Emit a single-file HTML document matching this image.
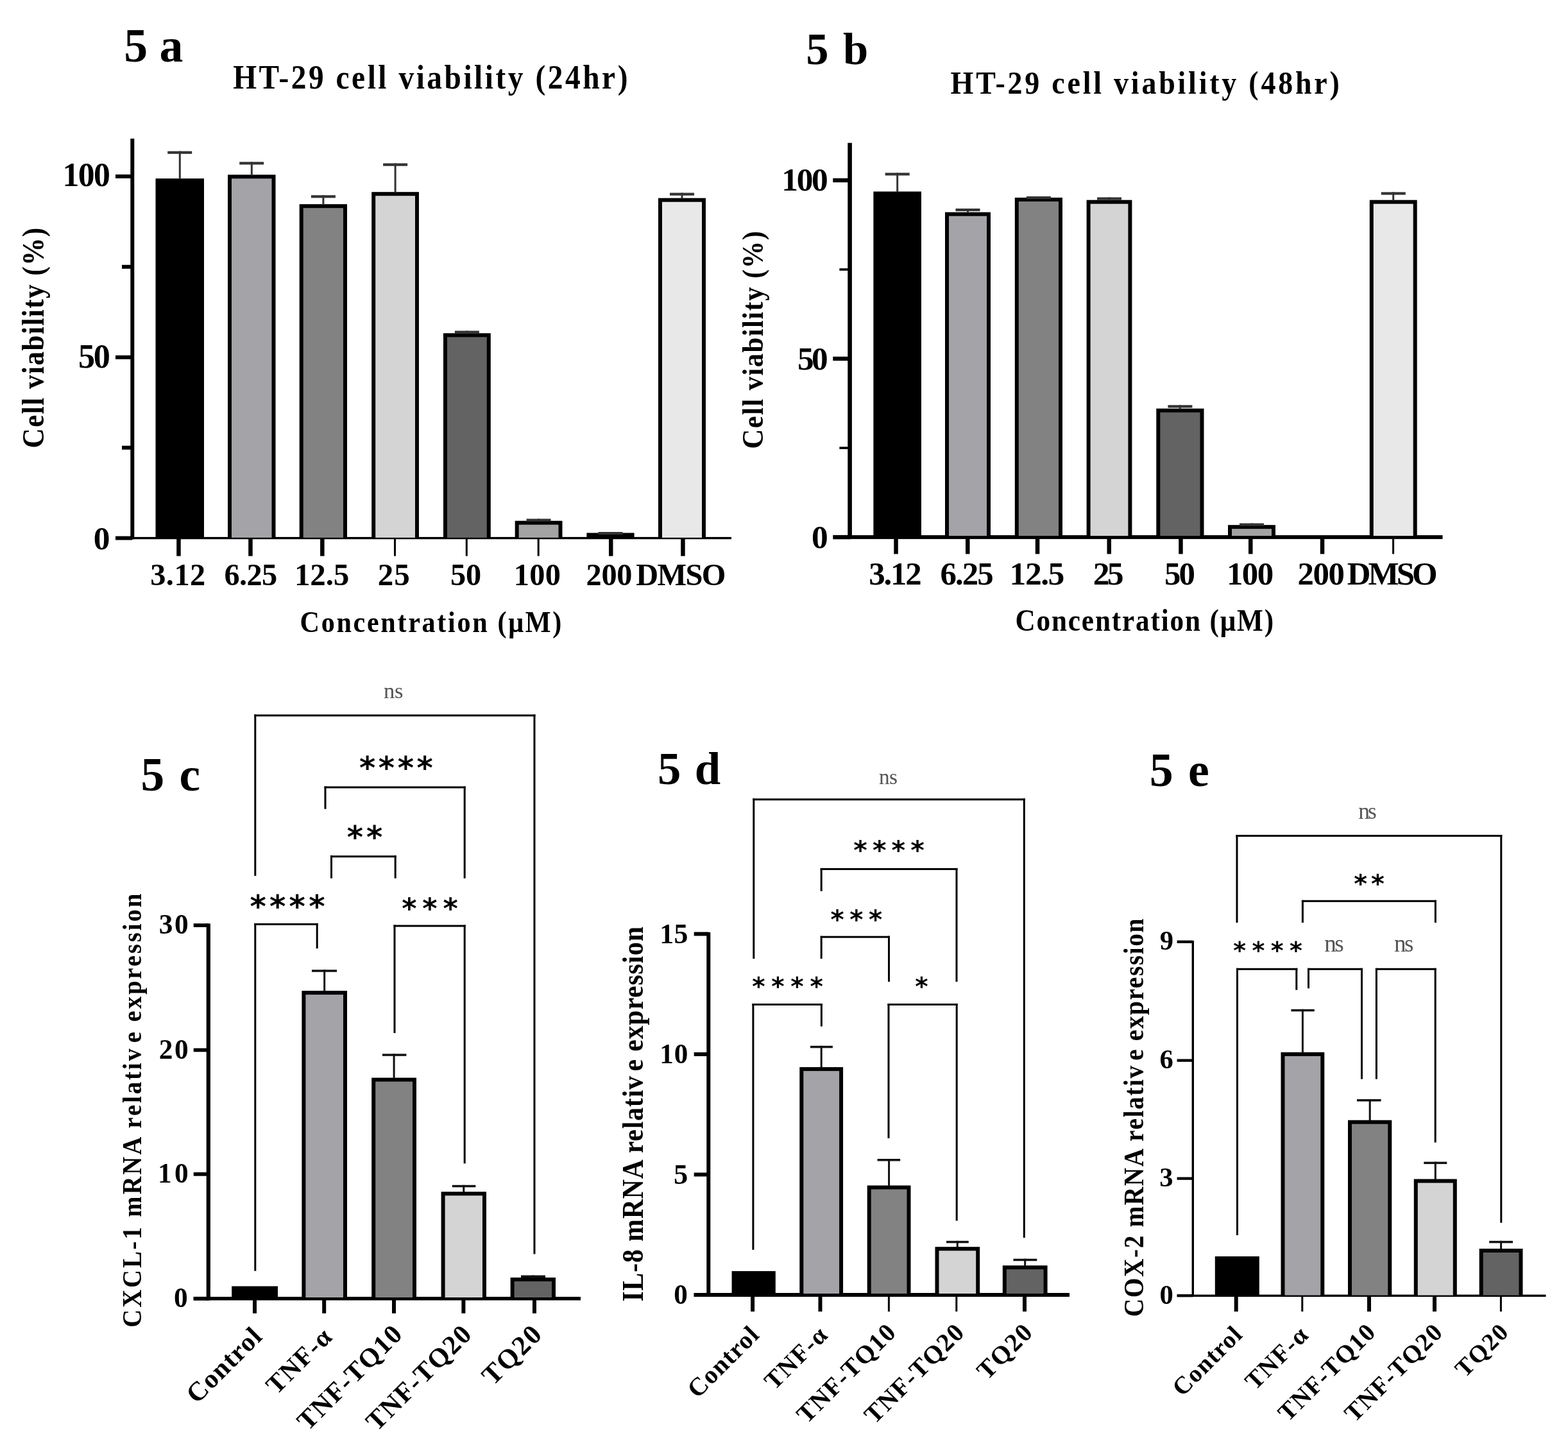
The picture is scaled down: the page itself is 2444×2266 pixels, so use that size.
<!DOCTYPE html>
<html><head><meta charset="utf-8"><title>Figure 5</title>
<style>html,body{margin:0;padding:0;background:#fff;} svg{display:block;}</style></head>
<body><svg width="2444" height="2266" viewBox="0 0 2444 2266">
<rect x="0" y="0" width="2444" height="2266" fill="#fff"/>
<rect x="203.3" y="216.0" width="6.0" height="624.3" fill="#000"/>
<rect x="180.0" y="836.9" width="960.0" height="3.4" fill="#000"/>
<rect x="180.0" y="835.6" width="26.3" height="6.0" fill="#000"/>
<rect x="180.0" y="553.8" width="26.3" height="6.0" fill="#000"/>
<rect x="180.0" y="271.9" width="26.3" height="6.0" fill="#000"/>
<rect x="190.0" y="694.7" width="16.3" height="6.0" fill="#000"/>
<rect x="190.0" y="412.8" width="16.3" height="6.0" fill="#000"/>
<rect x="275.2" y="838.6" width="6.5" height="28.0" fill="#000"/>
<rect x="387.2" y="838.6" width="6.5" height="28.0" fill="#000"/>
<rect x="499.1" y="838.6" width="6.5" height="28.0" fill="#000"/>
<rect x="614.0" y="838.6" width="3.0" height="28.0" fill="#000"/>
<rect x="725.8" y="838.6" width="3.0" height="28.0" fill="#000"/>
<rect x="837.7" y="838.6" width="3.0" height="28.0" fill="#000"/>
<rect x="949.0" y="838.6" width="6.5" height="28.0" fill="#000"/>
<rect x="1061.2" y="838.6" width="6.5" height="28.0" fill="#000"/>
<rect x="242.5" y="278.2" width="75.5" height="559.7" fill="#000"/>
<rect x="278.8" y="235.6" width="3.0" height="43.6" fill="#333"/>
<rect x="261.2" y="235.6" width="38.0" height="4.2" fill="#333"/>
<rect x="355.0" y="272.3" width="74.5" height="565.6" fill="#000"/>
<rect x="361.0" y="278.3" width="62.5" height="559.6" fill="#a4a3a8"/>
<rect x="390.8" y="252.3" width="3.0" height="21.0" fill="#333"/>
<rect x="373.2" y="252.3" width="38.0" height="4.2" fill="#333"/>
<rect x="466.7" y="318.2" width="74.3" height="519.7" fill="#000"/>
<rect x="472.7" y="324.2" width="62.3" height="513.7" fill="#828282"/>
<rect x="502.4" y="304.2" width="3.0" height="15.0" fill="#333"/>
<rect x="484.9" y="304.2" width="38.0" height="4.2" fill="#333"/>
<rect x="579.2" y="299.2" width="73.8" height="538.7" fill="#000"/>
<rect x="585.2" y="305.2" width="61.8" height="532.7" fill="#d4d4d4"/>
<rect x="614.6" y="254.5" width="3.0" height="45.7" fill="#333"/>
<rect x="597.1" y="254.5" width="38.0" height="4.2" fill="#333"/>
<rect x="691.0" y="519.3" width="73.8" height="318.6" fill="#000"/>
<rect x="697.0" y="525.3" width="61.8" height="312.6" fill="#636363"/>
<rect x="726.4" y="515.5" width="3.0" height="4.8" fill="#333"/>
<rect x="708.9" y="515.5" width="38.0" height="4.2" fill="#333"/>
<rect x="802.7" y="811.7" width="73.8" height="26.2" fill="#000"/>
<rect x="808.7" y="817.7" width="61.8" height="20.2" fill="#a3a3a3"/>
<rect x="838.1" y="808.5" width="3.0" height="4.2" fill="#333"/>
<rect x="820.6" y="808.5" width="38.0" height="4.2" fill="#333"/>
<rect x="914.4" y="830.5" width="74.2" height="7.4" fill="#000"/>
<rect x="950.0" y="829.0" width="3.0" height="2.5" fill="#333"/>
<rect x="932.5" y="829.0" width="38.0" height="4.2" fill="#333"/>
<rect x="1026.0" y="308.7" width="74.0" height="529.2" fill="#000"/>
<rect x="1032.0" y="314.7" width="62.0" height="523.2" fill="#e8e8e8"/>
<rect x="1061.5" y="300.5" width="3.0" height="9.2" fill="#333"/>
<rect x="1044.0" y="300.5" width="38.0" height="4.2" fill="#333"/>
<rect x="1321.3" y="222.7" width="6.6" height="617.4" fill="#000"/>
<rect x="1299.0" y="834.1" width="949.5" height="6.0" fill="#000"/>
<rect x="1298.3" y="833.9" width="26.3" height="6.4" fill="#000"/>
<rect x="1298.3" y="555.8" width="26.3" height="6.4" fill="#000"/>
<rect x="1298.3" y="277.8" width="26.3" height="6.4" fill="#000"/>
<rect x="1308.4" y="696.3" width="16.2" height="3.6" fill="#000"/>
<rect x="1308.4" y="418.2" width="16.2" height="3.6" fill="#000"/>
<rect x="1393.3" y="837.1" width="6.5" height="26.3" fill="#000"/>
<rect x="1505.0" y="837.1" width="6.5" height="26.3" fill="#000"/>
<rect x="1613.8" y="837.1" width="6.5" height="26.3" fill="#000"/>
<rect x="1725.5" y="837.1" width="6.5" height="26.3" fill="#000"/>
<rect x="1837.2" y="837.1" width="6.5" height="26.3" fill="#000"/>
<rect x="1946.0" y="837.1" width="6.5" height="26.3" fill="#000"/>
<rect x="2057.8" y="837.1" width="6.5" height="26.3" fill="#000"/>
<rect x="2170.1" y="837.1" width="3.0" height="26.3" fill="#000"/>
<rect x="1361.4" y="298.5" width="74.6" height="536.6" fill="#000"/>
<rect x="1397.2" y="269.3" width="3.0" height="30.2" fill="#333"/>
<rect x="1379.7" y="269.3" width="38.0" height="4.2" fill="#333"/>
<rect x="1473.0" y="330.7" width="71.0" height="504.4" fill="#000"/>
<rect x="1479.0" y="336.7" width="59.0" height="498.4" fill="#a4a3a8"/>
<rect x="1507.0" y="325.0" width="3.0" height="6.7" fill="#333"/>
<rect x="1489.5" y="325.0" width="38.0" height="4.2" fill="#333"/>
<rect x="1581.8" y="308.0" width="74.2" height="527.1" fill="#000"/>
<rect x="1587.8" y="314.0" width="62.2" height="521.1" fill="#828282"/>
<rect x="1617.4" y="306.0" width="3.0" height="3.0" fill="#333"/>
<rect x="1599.9" y="306.0" width="38.0" height="4.2" fill="#333"/>
<rect x="1693.6" y="311.7" width="70.8" height="523.4" fill="#000"/>
<rect x="1699.6" y="317.7" width="58.8" height="517.4" fill="#d4d4d4"/>
<rect x="1727.5" y="307.5" width="3.0" height="5.2" fill="#333"/>
<rect x="1710.0" y="307.5" width="38.0" height="4.2" fill="#333"/>
<rect x="1802.3" y="636.7" width="74.2" height="198.4" fill="#000"/>
<rect x="1808.3" y="642.7" width="62.2" height="192.4" fill="#636363"/>
<rect x="1837.9" y="631.3" width="3.0" height="6.4" fill="#333"/>
<rect x="1820.4" y="631.3" width="38.0" height="4.2" fill="#333"/>
<rect x="1914.0" y="818.2" width="74.0" height="16.9" fill="#000"/>
<rect x="1920.0" y="824.2" width="62.0" height="10.9" fill="#a3a3a3"/>
<rect x="1949.5" y="815.5" width="3.0" height="3.7" fill="#333"/>
<rect x="1932.0" y="815.5" width="38.0" height="4.2" fill="#333"/>
<rect x="2134.8" y="311.7" width="73.9" height="523.4" fill="#000"/>
<rect x="2140.8" y="317.7" width="61.9" height="517.4" fill="#e8e8e8"/>
<rect x="2170.2" y="299.4" width="3.0" height="13.3" fill="#333"/>
<rect x="2152.8" y="299.4" width="38.0" height="4.2" fill="#333"/>
<rect x="321.7" y="1439.3" width="6.2" height="587.2" fill="#000"/>
<rect x="301.7" y="2021.0" width="603.3" height="5.5" fill="#000"/>
<rect x="301.7" y="1439.2" width="23.1" height="5.7" fill="#000"/>
<rect x="301.7" y="1633.6" width="23.1" height="5.7" fill="#000"/>
<rect x="301.7" y="1827.0" width="23.1" height="5.7" fill="#000"/>
<rect x="301.7" y="2020.9" width="23.1" height="5.7" fill="#000"/>
<rect x="394.0" y="2023.7" width="6.0" height="23.1" fill="#000"/>
<rect x="502.2" y="2023.7" width="6.0" height="23.1" fill="#000"/>
<rect x="611.0" y="2023.7" width="6.0" height="23.1" fill="#000"/>
<rect x="719.4" y="2023.7" width="6.0" height="23.1" fill="#000"/>
<rect x="830.0" y="2023.7" width="6.0" height="23.1" fill="#000"/>
<rect x="361.2" y="2004.5" width="71.8" height="17.5" fill="#000"/>
<rect x="470.4" y="1544.1" width="70.6" height="477.9" fill="#000"/>
<rect x="476.4" y="1550.1" width="58.6" height="471.9" fill="#a4a3a8"/>
<rect x="504.2" y="1511.3" width="3.0" height="33.8" fill="#111"/>
<rect x="486.0" y="1511.3" width="39.1" height="3.5" fill="#111"/>
<rect x="579.2" y="1679.6" width="69.8" height="342.4" fill="#000"/>
<rect x="585.2" y="1685.6" width="57.8" height="336.4" fill="#828282"/>
<rect x="612.6" y="1642.3" width="3.0" height="38.3" fill="#111"/>
<rect x="596.0" y="1642.3" width="37.4" height="3.5" fill="#111"/>
<rect x="687.6" y="1857.3" width="70.4" height="164.7" fill="#000"/>
<rect x="693.6" y="1863.3" width="58.4" height="158.7" fill="#d4d4d4"/>
<rect x="721.3" y="1846.8" width="3.0" height="11.5" fill="#111"/>
<rect x="704.8" y="1846.8" width="36.6" height="3.5" fill="#111"/>
<rect x="795.6" y="1991.0" width="70.4" height="31.0" fill="#000"/>
<rect x="801.6" y="1997.0" width="58.4" height="25.0" fill="#636363"/>
<rect x="829.3" y="1987.5" width="3.0" height="4.5" fill="#111"/>
<rect x="812.0" y="1987.5" width="38.0" height="3.5" fill="#111"/>
<rect x="396.3" y="1113.5" width="438.2" height="3.0" fill="#000"/>
<rect x="396.3" y="1113.5" width="3.0" height="251.5" fill="#000"/>
<rect x="831.5" y="1113.5" width="3.0" height="840.9" fill="#000"/>
<rect x="505.5" y="1225.5" width="220.2" height="3.0" fill="#000"/>
<rect x="505.5" y="1225.5" width="3.0" height="35.3" fill="#000"/>
<rect x="722.7" y="1225.5" width="3.0" height="143.3" fill="#000"/>
<rect x="515.0" y="1333.3" width="102.7" height="3.0" fill="#000"/>
<rect x="515.0" y="1333.3" width="3.0" height="35.5" fill="#000"/>
<rect x="614.7" y="1333.3" width="3.0" height="35.5" fill="#000"/>
<rect x="396.3" y="1438.9" width="99.4" height="3.0" fill="#000"/>
<rect x="396.3" y="1438.9" width="3.0" height="541.8" fill="#000"/>
<rect x="492.7" y="1438.9" width="3.0" height="39.3" fill="#000"/>
<rect x="613.5" y="1441.5" width="112.2" height="3.0" fill="#000"/>
<rect x="613.5" y="1441.5" width="3.0" height="168.5" fill="#000"/>
<rect x="722.7" y="1441.5" width="3.0" height="371.8" fill="#000"/>
<rect x="1101.3" y="1452.9" width="6.0" height="568.1" fill="#000"/>
<rect x="1081.7" y="2015.0" width="585.3" height="6.0" fill="#000"/>
<rect x="1081.7" y="1452.5" width="22.6" height="6.0" fill="#000"/>
<rect x="1081.7" y="1640.0" width="22.6" height="6.0" fill="#000"/>
<rect x="1081.7" y="1827.5" width="22.6" height="6.0" fill="#000"/>
<rect x="1081.7" y="2015.0" width="22.6" height="6.0" fill="#000"/>
<rect x="1170.1" y="2018.0" width="6.0" height="26.0" fill="#000"/>
<rect x="1275.5" y="2018.0" width="6.0" height="26.0" fill="#000"/>
<rect x="1383.9" y="2018.0" width="3.0" height="26.0" fill="#000"/>
<rect x="1489.3" y="2018.0" width="3.0" height="26.0" fill="#000"/>
<rect x="1594.0" y="2018.0" width="6.0" height="26.0" fill="#000"/>
<rect x="1140.6" y="1981.0" width="68.2" height="35.0" fill="#000"/>
<rect x="1246.3" y="1663.1" width="67.8" height="352.9" fill="#000"/>
<rect x="1252.3" y="1669.1" width="55.8" height="346.9" fill="#a4a3a8"/>
<rect x="1278.7" y="1629.8" width="3.0" height="34.3" fill="#111"/>
<rect x="1263.0" y="1629.8" width="34.9" height="3.5" fill="#111"/>
<rect x="1351.7" y="1847.5" width="67.8" height="168.5" fill="#000"/>
<rect x="1357.7" y="1853.5" width="55.8" height="162.5" fill="#828282"/>
<rect x="1384.1" y="1806.0" width="3.0" height="42.5" fill="#111"/>
<rect x="1367.6" y="1806.0" width="35.6" height="3.5" fill="#111"/>
<rect x="1457.5" y="1943.2" width="69.7" height="72.8" fill="#000"/>
<rect x="1463.5" y="1949.2" width="57.7" height="66.8" fill="#d4d4d4"/>
<rect x="1490.8" y="1933.8" width="3.0" height="10.4" fill="#111"/>
<rect x="1475.0" y="1933.8" width="34.8" height="3.5" fill="#111"/>
<rect x="1562.8" y="1972.2" width="69.8" height="43.8" fill="#000"/>
<rect x="1568.8" y="1978.2" width="57.8" height="37.8" fill="#636363"/>
<rect x="1596.2" y="1961.7" width="3.0" height="11.5" fill="#111"/>
<rect x="1579.5" y="1961.7" width="36.8" height="3.5" fill="#111"/>
<rect x="1173.3" y="1244.4" width="424.5" height="3.0" fill="#000"/>
<rect x="1173.3" y="1244.4" width="3.0" height="249.8" fill="#000"/>
<rect x="1594.8" y="1244.4" width="3.0" height="684.5" fill="#000"/>
<rect x="1278.7" y="1352.9" width="213.8" height="3.0" fill="#000"/>
<rect x="1278.7" y="1352.9" width="3.0" height="35.9" fill="#000"/>
<rect x="1489.5" y="1352.9" width="3.0" height="177.1" fill="#000"/>
<rect x="1278.7" y="1458.7" width="108.3" height="3.0" fill="#000"/>
<rect x="1278.7" y="1458.7" width="3.0" height="35.5" fill="#000"/>
<rect x="1384.0" y="1458.7" width="3.0" height="71.3" fill="#000"/>
<rect x="1172.4" y="1564.0" width="109.5" height="3.0" fill="#000"/>
<rect x="1172.4" y="1564.0" width="3.0" height="383.8" fill="#000"/>
<rect x="1278.9" y="1564.0" width="3.0" height="35.6" fill="#000"/>
<rect x="1383.5" y="1564.0" width="109.2" height="3.0" fill="#000"/>
<rect x="1383.5" y="1564.0" width="3.0" height="209.9" fill="#000"/>
<rect x="1489.7" y="1564.0" width="3.0" height="338.5" fill="#000"/>
<rect x="1857.6" y="1466.0" width="3.4" height="555.0" fill="#000"/>
<rect x="1834.8" y="2017.6" width="574.7" height="3.4" fill="#000"/>
<rect x="1834.6" y="1465.6" width="24.7" height="4.3" fill="#000"/>
<rect x="1834.6" y="1650.5" width="24.7" height="4.3" fill="#000"/>
<rect x="1834.6" y="1834.5" width="24.7" height="4.3" fill="#000"/>
<rect x="1834.6" y="2017.1" width="24.7" height="4.3" fill="#000"/>
<rect x="1923.7" y="2019.3" width="6.0" height="24.7" fill="#000"/>
<rect x="2028.3" y="2019.3" width="3.0" height="24.7" fill="#000"/>
<rect x="2131.0" y="2019.3" width="6.0" height="24.7" fill="#000"/>
<rect x="2233.0" y="2019.3" width="6.0" height="24.7" fill="#000"/>
<rect x="2337.9" y="2019.3" width="3.0" height="24.7" fill="#000"/>
<rect x="1893.8" y="1958.0" width="69.0" height="60.6" fill="#000"/>
<rect x="1996.5" y="1639.9" width="67.8" height="378.7" fill="#000"/>
<rect x="2002.5" y="1645.9" width="55.8" height="372.7" fill="#a4a3a8"/>
<rect x="2028.9" y="1572.8" width="3.0" height="68.1" fill="#111"/>
<rect x="2012.4" y="1572.8" width="36.4" height="3.5" fill="#111"/>
<rect x="2101.0" y="1745.7" width="68.3" height="272.9" fill="#000"/>
<rect x="2107.0" y="1751.7" width="56.3" height="266.9" fill="#828282"/>
<rect x="2133.7" y="1713.0" width="3.0" height="33.7" fill="#111"/>
<rect x="2115.0" y="1713.0" width="37.6" height="3.5" fill="#111"/>
<rect x="2203.8" y="1837.5" width="67.0" height="181.1" fill="#000"/>
<rect x="2209.8" y="1843.5" width="55.0" height="175.1" fill="#d4d4d4"/>
<rect x="2235.8" y="1810.6" width="3.0" height="27.9" fill="#111"/>
<rect x="2219.3" y="1810.6" width="36.0" height="3.5" fill="#111"/>
<rect x="2305.7" y="1946.0" width="67.8" height="72.6" fill="#000"/>
<rect x="2311.7" y="1952.0" width="55.8" height="66.6" fill="#636363"/>
<rect x="2338.1" y="1933.8" width="3.0" height="13.2" fill="#111"/>
<rect x="2321.2" y="1933.8" width="36.8" height="3.5" fill="#111"/>
<rect x="1926.5" y="1301.1" width="414.8" height="3.0" fill="#000"/>
<rect x="1926.5" y="1301.1" width="3.0" height="136.8" fill="#000"/>
<rect x="2338.3" y="1301.1" width="3.0" height="604.6" fill="#000"/>
<rect x="2028.9" y="1402.8" width="210.0" height="3.0" fill="#000"/>
<rect x="2028.9" y="1402.8" width="3.0" height="35.1" fill="#000"/>
<rect x="2235.9" y="1402.8" width="3.0" height="35.1" fill="#000"/>
<rect x="1927.0" y="1508.8" width="95.3" height="3.0" fill="#000"/>
<rect x="1927.0" y="1508.8" width="3.0" height="416.2" fill="#000"/>
<rect x="2019.3" y="1508.8" width="3.0" height="34.0" fill="#000"/>
<rect x="2038.0" y="1508.8" width="86.0" height="3.0" fill="#000"/>
<rect x="2038.0" y="1508.8" width="3.0" height="31.5" fill="#000"/>
<rect x="2121.0" y="1508.8" width="3.0" height="172.9" fill="#000"/>
<rect x="2143.9" y="1508.8" width="94.8" height="3.0" fill="#000"/>
<rect x="2143.9" y="1508.8" width="3.0" height="172.9" fill="#000"/>
<rect x="2235.7" y="1508.8" width="3.0" height="271.7" fill="#000"/>
<text x="193.3" y="96.1" font-size="73.79" letter-spacing="-0.02" font-family="Liberation Serif" font-weight="bold" fill="#000" xml:space="preserve">5 a</text>
<text x="1256.3" y="99.8" font-size="70.57" letter-spacing="2.45" font-family="Liberation Serif" font-weight="bold" fill="#000" xml:space="preserve">5 b</text>
<text transform="translate(363.2,137.5) scale(0.9,1)" x="0" y="0" font-size="52.67" letter-spacing="3.92" font-family="Liberation Serif" font-weight="bold" fill="#000" xml:space="preserve">HT-29 cell viability (24hr)</text>
<text transform="translate(1481.6,145.9) scale(0.9,1)" x="0" y="0" font-size="51.11" letter-spacing="4.20" font-family="Liberation Serif" font-weight="bold" fill="#000" xml:space="preserve">HT-29 cell viability (48hr)</text>
<text x="97.6" y="289.9" font-size="51.76" letter-spacing="-1.62" font-family="Liberation Serif" font-weight="bold" fill="#000" xml:space="preserve">100</text>
<text x="122.0" y="572.6" font-size="52.21" letter-spacing="-2.33" font-family="Liberation Serif" font-weight="bold" fill="#000" xml:space="preserve">50</text>
<text x="145.7" y="855.5" font-size="51.47" letter-spacing="0.00" font-family="Liberation Serif" font-weight="bold" fill="#000" xml:space="preserve">0</text>
<text x="1218.3" y="297.0" font-size="51.47" letter-spacing="-2.36" font-family="Liberation Serif" font-weight="bold" fill="#000" xml:space="preserve">100</text>
<text x="1243.1" y="575.7" font-size="51.32" letter-spacing="-3.72" font-family="Liberation Serif" font-weight="bold" fill="#000" xml:space="preserve">50</text>
<text x="1265.0" y="854.0" font-size="51.47" letter-spacing="0.00" font-family="Liberation Serif" font-weight="bold" fill="#000" xml:space="preserve">0</text>
<text transform="translate(67.9,698.4) rotate(-90) scale(0.9,1)" x="0" y="0" font-size="48.00" letter-spacing="1.60" font-family="Liberation Serif" font-weight="bold" fill="#000" xml:space="preserve">Cell viability (%)</text>
<text transform="translate(1189.2,699.4) rotate(-90) scale(0.9,1)" x="0" y="0" font-size="47.33" letter-spacing="1.61" font-family="Liberation Serif" font-weight="bold" fill="#000" xml:space="preserve">Cell viability (%)</text>
<text x="234.2" y="911.8" font-size="48.38" letter-spacing="0.47" font-family="Liberation Serif" font-weight="bold" fill="#000" xml:space="preserve">3.12</text>
<text x="349.4" y="911.8" font-size="48.38" letter-spacing="-0.63" font-family="Liberation Serif" font-weight="bold" fill="#000" xml:space="preserve">6.25</text>
<text x="458.9" y="912.3" font-size="49.10" letter-spacing="-0.15" font-family="Liberation Serif" font-weight="bold" fill="#000" xml:space="preserve">12.5</text>
<text x="588.8" y="912.3" font-size="49.10" letter-spacing="1.02" font-family="Liberation Serif" font-weight="bold" fill="#000" xml:space="preserve">25</text>
<text x="701.9" y="911.8" font-size="48.38" letter-spacing="-0.11" font-family="Liberation Serif" font-weight="bold" fill="#000" xml:space="preserve">50</text>
<text x="800.8" y="911.8" font-size="48.38" letter-spacing="0.27" font-family="Liberation Serif" font-weight="bold" fill="#000" xml:space="preserve">100</text>
<text x="913.4" y="911.8" font-size="48.38" letter-spacing="-0.20" font-family="Liberation Serif" font-weight="bold" fill="#000" xml:space="preserve">200</text>
<text x="991.3" y="911.8" font-size="48.38" letter-spacing="-1.69" font-family="Liberation Serif" font-weight="bold" fill="#000" xml:space="preserve">DMSO</text>
<text x="1354.2" y="910.9" font-size="50.88" letter-spacing="-2.19" font-family="Liberation Serif" font-weight="bold" fill="#000" xml:space="preserve">3.12</text>
<text x="1465.4" y="910.9" font-size="50.88" letter-spacing="-1.93" font-family="Liberation Serif" font-weight="bold" fill="#000" xml:space="preserve">6.25</text>
<text x="1573.6" y="911.4" font-size="51.64" letter-spacing="-1.53" font-family="Liberation Serif" font-weight="bold" fill="#000" xml:space="preserve">12.5</text>
<text x="1703.7" y="911.4" font-size="51.64" letter-spacing="-3.71" font-family="Liberation Serif" font-weight="bold" fill="#000" xml:space="preserve">25</text>
<text x="1814.9" y="910.9" font-size="50.88" letter-spacing="-2.91" font-family="Liberation Serif" font-weight="bold" fill="#000" xml:space="preserve">50</text>
<text x="1912.1" y="910.9" font-size="50.88" letter-spacing="-1.66" font-family="Liberation Serif" font-weight="bold" fill="#000" xml:space="preserve">100</text>
<text x="2022.6" y="910.9" font-size="50.88" letter-spacing="-1.48" font-family="Liberation Serif" font-weight="bold" fill="#000" xml:space="preserve">200</text>
<text x="2099.8" y="910.9" font-size="50.88" letter-spacing="-3.93" font-family="Liberation Serif" font-weight="bold" fill="#000" xml:space="preserve">DMSO</text>
<text transform="translate(467.6,984.9) scale(0.9,1)" x="0" y="0" font-size="46.89" letter-spacing="2.95" font-family="Liberation Serif" font-weight="bold" fill="#000" xml:space="preserve">Concentration (μM)</text>
<text transform="translate(1582.5,982.5) scale(0.9,1)" x="0" y="0" font-size="48.00" letter-spacing="2.05" font-family="Liberation Serif" font-weight="bold" fill="#000" xml:space="preserve">Concentration (μM)</text>
<text x="219.5" y="1231.5" font-size="73.33" letter-spacing="2.52" font-family="Liberation Serif" font-weight="bold" fill="#000" xml:space="preserve">5 c</text>
<text x="1025.1" y="1222.0" font-size="72.71" letter-spacing="1.59" font-family="Liberation Serif" font-weight="bold" fill="#000" xml:space="preserve">5 d</text>
<text x="1791.8" y="1224.5" font-size="73.79" letter-spacing="2.41" font-family="Liberation Serif" font-weight="bold" fill="#000" xml:space="preserve">5 e</text>
<text x="247.8" y="1455.3" font-size="43.38" letter-spacing="2.59" font-family="Liberation Serif" font-weight="bold" fill="#000" xml:space="preserve">30</text>
<text x="247.8" y="1649.7" font-size="43.38" letter-spacing="2.59" font-family="Liberation Serif" font-weight="bold" fill="#000" xml:space="preserve">20</text>
<text x="246.0" y="1843.1" font-size="43.38" letter-spacing="4.32" font-family="Liberation Serif" font-weight="bold" fill="#000" xml:space="preserve">10</text>
<text x="270.9" y="2037.0" font-size="43.38" letter-spacing="0.00" font-family="Liberation Serif" font-weight="bold" fill="#000" xml:space="preserve">0</text>
<text x="1028.2" y="1469.7" font-size="43.88" letter-spacing="0.29" font-family="Liberation Serif" font-weight="bold" fill="#000" xml:space="preserve">15</text>
<text x="1028.2" y="1656.7" font-size="43.24" letter-spacing="0.85" font-family="Liberation Serif" font-weight="bold" fill="#000" xml:space="preserve">10</text>
<text x="1050.0" y="1844.7" font-size="44.55" letter-spacing="0.00" font-family="Liberation Serif" font-weight="bold" fill="#000" xml:space="preserve">5</text>
<text x="1050.3" y="2031.7" font-size="43.24" letter-spacing="0.00" font-family="Liberation Serif" font-weight="bold" fill="#000" xml:space="preserve">0</text>
<text x="1807.7" y="1480.4" font-size="42.65" letter-spacing="0.00" font-family="Liberation Serif" font-weight="bold" fill="#000" xml:space="preserve">9</text>
<text x="1807.5" y="1665.3" font-size="42.65" letter-spacing="0.00" font-family="Liberation Serif" font-weight="bold" fill="#000" xml:space="preserve">6</text>
<text x="1807.3" y="1849.3" font-size="42.65" letter-spacing="0.00" font-family="Liberation Serif" font-weight="bold" fill="#000" xml:space="preserve">3</text>
<text x="1807.5" y="2031.9" font-size="42.65" letter-spacing="0.00" font-family="Liberation Serif" font-weight="bold" fill="#000" xml:space="preserve">0</text>
<text transform="translate(219.7,2068.7) rotate(-90) scale(0.9,1)" x="0" y="0" font-size="43.00" letter-spacing="3.25" font-family="Liberation Serif" font-weight="bold" fill="#000" xml:space="preserve">CXCL-1 mRNA relativ<tspan dx="6.88">e</tspan> expression</text>
<text transform="translate(1001.9,2028.6) rotate(-90) scale(0.9,1)" x="0" y="0" font-size="46.44" letter-spacing="0.94" font-family="Liberation Serif" font-weight="bold" fill="#000" xml:space="preserve">IL-8 mRNA relativ<tspan dx="7.43">e</tspan> expression</text>
<text transform="translate(1782.4,2052.2) rotate(-90) scale(0.9,1)" x="0" y="0" font-size="43.67" letter-spacing="1.81" font-family="Liberation Serif" font-weight="bold" fill="#000" xml:space="preserve">COX-2 mRNA relativ<tspan dx="6.99">e</tspan> expression</text>
<text x="597.9" y="1088.3" font-size="34.58" letter-spacing="-0.20" font-family="Liberation Serif" font-weight="normal" fill="#555" xml:space="preserve">ns</text>
<text x="1370.1" y="1221.7" font-size="33.33" letter-spacing="-0.67" font-family="Liberation Serif" font-weight="normal" fill="#555" xml:space="preserve">ns</text>
<text x="2117.3" y="1276.1" font-size="35.42" letter-spacing="-2.90" font-family="Liberation Serif" font-weight="normal" fill="#555" xml:space="preserve">ns</text>
<text x="2064.3" y="1483.4" font-size="37.08" letter-spacing="-2.58" font-family="Liberation Serif" font-weight="normal" fill="#555" xml:space="preserve">ns</text>
<text x="2173.1" y="1483.4" font-size="37.08" letter-spacing="-2.58" font-family="Liberation Serif" font-weight="normal" fill="#555" xml:space="preserve">ns</text>
<text x="560.0" y="1212.7" font-size="48.30" letter-spacing="4.56" font-family="DejaVu Sans" font-weight="bold" fill="#000" xml:space="preserve">****</text>
<text x="540.8" y="1320.8" font-size="48.30" letter-spacing="4.90" font-family="DejaVu Sans" font-weight="bold" fill="#000" xml:space="preserve">**</text>
<text x="389.5" y="1429.4" font-size="48.51" letter-spacing="5.18" font-family="DejaVu Sans" font-weight="bold" fill="#000" xml:space="preserve">****</text>
<text x="626.2" y="1430.8" font-size="44.47" letter-spacing="8.88" font-family="DejaVu Sans" font-weight="bold" fill="#000" xml:space="preserve">***</text>
<text x="1330.2" y="1339.0" font-size="41.28" letter-spacing="8.13" font-family="DejaVu Sans" font-weight="bold" fill="#000" xml:space="preserve">****</text>
<text x="1294.5" y="1446.5" font-size="40.43" letter-spacing="8.57" font-family="DejaVu Sans" font-weight="bold" fill="#000" xml:space="preserve">***</text>
<text x="1172.2" y="1550.8" font-size="38.94" letter-spacing="9.73" font-family="DejaVu Sans" font-weight="bold" fill="#000" xml:space="preserve">****</text>
<text x="1426.3" y="1550.8" font-size="38.94" letter-spacing="0.00" font-family="DejaVu Sans" font-weight="bold" fill="#000" xml:space="preserve">*</text>
<text x="2110.2" y="1390.7" font-size="39.79" letter-spacing="6.01" font-family="DejaVu Sans" font-weight="bold" fill="#000" xml:space="preserve">**</text>
<text x="1922.2" y="1494.4" font-size="37.87" letter-spacing="9.45" font-family="DejaVu Sans" font-weight="bold" fill="#000" xml:space="preserve">****</text>
<text transform="translate(306.9,2189.1) rotate(-45)" x="0" y="0" font-size="41.67" letter-spacing="1.36" font-family="Liberation Serif" font-weight="bold" fill="#000" xml:space="preserve">Control</text>
<text transform="translate(431.0,2174.7) rotate(-45)" x="0" y="0" font-size="40.69" letter-spacing="1.82" font-family="Liberation Serif" font-weight="bold" fill="#000" xml:space="preserve">TNF-α</text>
<text transform="translate(479.7,2231.3) rotate(-45)" x="0" y="0" font-size="41.79" letter-spacing="1.63" font-family="Liberation Serif" font-weight="bold" fill="#000" xml:space="preserve">TNF-TQ10</text>
<text transform="translate(587.2,2232.1) rotate(-45)" x="0" y="0" font-size="41.99" letter-spacing="1.64" font-family="Liberation Serif" font-weight="bold" fill="#000" xml:space="preserve">TNF-TQ20</text>
<text transform="translate(768.2,2160.8) rotate(-45)" x="0" y="0" font-size="42.71" letter-spacing="2.14" font-family="Liberation Serif" font-weight="bold" fill="#000" xml:space="preserve">TQ20</text>
<text transform="translate(1087.2,2180.6) rotate(-45)" x="0" y="0" font-size="39.39" letter-spacing="1.29" font-family="Liberation Serif" font-weight="bold" fill="#000" xml:space="preserve">Control</text>
<text transform="translate(1207.0,2167.8) rotate(-45)" x="0" y="0" font-size="38.90" letter-spacing="1.77" font-family="Liberation Serif" font-weight="bold" fill="#000" xml:space="preserve">TNF-α</text>
<text transform="translate(1257.5,2219.9) rotate(-45)" x="0" y="0" font-size="39.42" letter-spacing="1.54" font-family="Liberation Serif" font-weight="bold" fill="#000" xml:space="preserve">TNF-TQ10</text>
<text transform="translate(1363.1,2220.8) rotate(-45)" x="0" y="0" font-size="39.65" letter-spacing="1.55" font-family="Liberation Serif" font-weight="bold" fill="#000" xml:space="preserve">TNF-TQ20</text>
<text transform="translate(1538.4,2152.0) rotate(-45)" x="0" y="0" font-size="39.71" letter-spacing="2.00" font-family="Liberation Serif" font-weight="bold" fill="#000" xml:space="preserve">TQ20</text>
<text transform="translate(1842.8,2177.7) rotate(-45)" x="0" y="0" font-size="38.38" letter-spacing="1.26" font-family="Liberation Serif" font-weight="bold" fill="#000" xml:space="preserve">Control</text>
<text transform="translate(1956.2,2168.0) rotate(-45)" x="0" y="0" font-size="38.96" letter-spacing="1.77" font-family="Liberation Serif" font-weight="bold" fill="#000" xml:space="preserve">TNF-α</text>
<text transform="translate(2007.6,2216.9) rotate(-45)" x="0" y="0" font-size="38.65" letter-spacing="1.51" font-family="Liberation Serif" font-weight="bold" fill="#000" xml:space="preserve">TNF-TQ10</text>
<text transform="translate(2111.3,2217.9) rotate(-45)" x="0" y="0" font-size="38.90" letter-spacing="1.52" font-family="Liberation Serif" font-weight="bold" fill="#000" xml:space="preserve">TNF-TQ20</text>
<text transform="translate(2283.2,2148.2) rotate(-45)" x="0" y="0" font-size="37.90" letter-spacing="1.93" font-family="Liberation Serif" font-weight="bold" fill="#000" xml:space="preserve">TQ20</text>
</svg></body></html>
